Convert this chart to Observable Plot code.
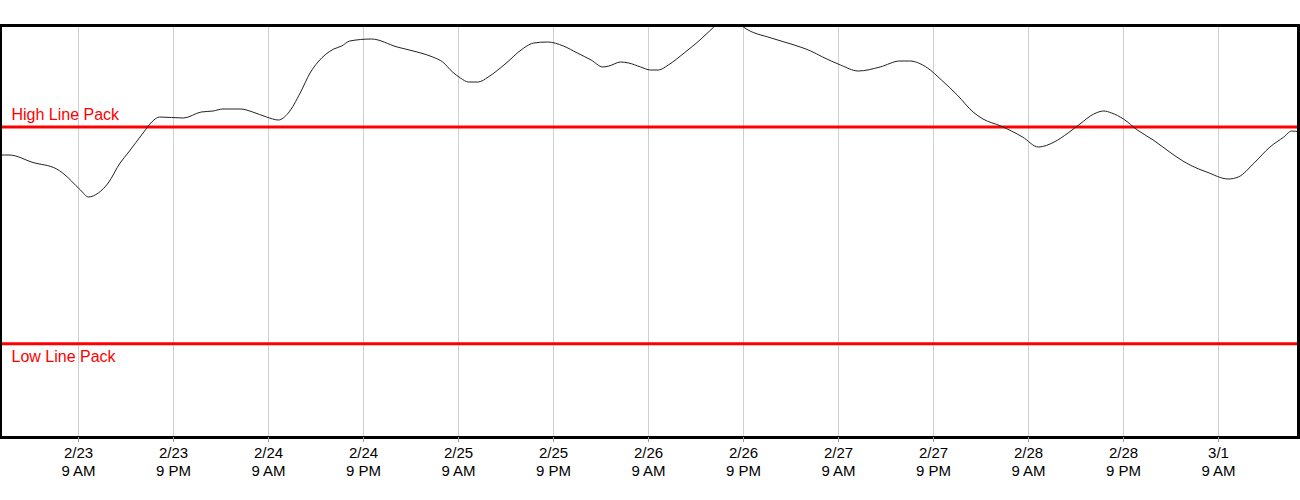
<!DOCTYPE html>
<html>
<head>
<meta charset="utf-8">
<script src="https://cdn.jsdelivr.net/npm/d3@7"></script>
<script src="https://cdn.jsdelivr.net/npm/@observablehq/plot@0.6"></script>
<style>
  body { margin: 0; background: #fff; }
  svg { display: block; }
</style>
</head>
<body>
<div id="chart"></div>
<script>
// Time stamps (UTC) of the line pack readings
const times = [
  "2023-02-22T23:00","2023-02-23T00:15","2023-02-23T03:15","2023-02-23T06:15","2023-02-23T07:00","2023-02-23T09:15",
  "2023-02-23T10:15","2023-02-23T11:30","2023-02-23T12:45","2023-02-23T14:15","2023-02-23T15:15",
  "2023-02-23T17:15","2023-02-23T18:15","2023-02-23T19:15","2023-02-23T22:15","2023-02-24T00:30",
  "2023-02-24T02:00","2023-02-24T03:15","2023-02-24T05:30","2023-02-24T07:00","2023-02-24T08:45",
  "2023-02-24T10:15","2023-02-24T11:30","2023-02-24T13:00","2023-02-24T14:15","2023-02-24T15:15",
  "2023-02-24T17:15","2023-02-24T18:15","2023-02-24T19:15","2023-02-24T22:00","2023-02-25T01:15",
  "2023-02-25T04:15","2023-02-25T05:45","2023-02-25T07:00","2023-02-25T08:15","2023-02-25T09:15",
  "2023-02-25T10:15","2023-02-25T11:30","2023-02-25T12:45","2023-02-25T14:45","2023-02-25T17:15",
  "2023-02-25T18:30","2023-02-25T20:15","2023-02-25T22:15","2023-02-26T00:00","2023-02-26T01:45",
  "2023-02-26T03:15","2023-02-26T04:00","2023-02-26T05:30","2023-02-26T06:30","2023-02-26T08:00",
  "2023-02-26T09:15","2023-02-26T10:15","2023-02-26T11:30","2023-02-26T13:30","2023-02-26T15:30",
  "2023-02-26T17:15","2023-02-26T18:45","2023-02-26T20:15","2023-02-26T21:00","2023-02-27T00:30",
  "2023-02-27T03:00","2023-02-27T05:30","2023-02-27T07:00","2023-02-27T09:15","2023-02-27T11:30",
  "2023-02-27T14:15","2023-02-27T16:45","2023-02-27T18:00","2023-02-27T20:15","2023-02-27T22:00",
  "2023-02-28T00:00","2023-02-28T02:00","2023-02-28T03:15","2023-02-28T05:30","2023-02-28T08:15",
  "2023-02-28T10:15","2023-02-28T12:15","2023-02-28T14:00","2023-02-28T15:30","2023-02-28T17:15",
  "2023-02-28T18:30","2023-02-28T19:30","2023-02-28T21:00","2023-02-28T22:45","2023-03-01T00:45",
  "2023-03-01T03:00","2023-03-01T04:30","2023-03-01T06:30","2023-03-01T07:30","2023-03-01T10:15",
  "2023-03-01T11:30","2023-03-01T13:30","2023-03-01T15:30","2023-03-01T17:15","2023-03-01T18:15",
  "2023-03-01T19:15"
];

// Line pack values (arbitrary units)
const values = [
  282.5, 282.5, 275.0, 268.5, 264.5, 247.5,
  240.5, 244.5, 254.5, 274.5, 284.5,
  305.5, 315.5, 320.5, 319.5, 325.5,
  326.5, 328.5, 328.5, 325.5, 320.5,
  317.5, 324.5, 344.5, 364.5, 375.5,
  388.5, 391.5, 396.5, 398.5, 390.5,
  384.5, 380.5, 375.5, 365.5, 359.5,
  355.5, 355.5, 360.5, 372.5, 389.5,
  394.5, 395.5, 391.5, 384.5, 377.5,
  370.5, 371.5, 375.5, 374.5, 370.5,
  367.5, 367.5, 372.5, 384.5, 397.5,
  410.5, 420.5, 415.5, 410.5, 399.5,
  393.5, 386.5, 380.5, 372.5, 366.5,
  370.5, 376.5, 376.5, 369.5, 357.5,
  342.5, 325.5, 318.5, 311.5, 300.5,
  290.5, 295.5, 304.5, 313.5, 323.5,
  326.5, 324.5, 318.5, 307.5, 297.5,
  284.5, 276.5, 268.5, 265.5, 258.5,
  260.5, 274.5, 290.5, 300.5, 306.5,
  305.5
];

// X tick positions
const tickTimes = [
  "2023-02-23T09:00","2023-02-23T21:00","2023-02-24T09:00","2023-02-24T21:00",
  "2023-02-25T09:00","2023-02-25T21:00","2023-02-26T09:00","2023-02-26T21:00",
  "2023-02-27T09:00","2023-02-27T21:00","2023-02-28T09:00","2023-02-28T21:00",
  "2023-03-01T09:00"
];

// Limit lines
const limitNames = ["High Line Pack", "Low Line Pack"];
const limitValues = [310.5, 93.8];

const parse = d3.utcParse("%Y-%m-%dT%H:%M");
const data = times.map((t, i) => ({date: parse(t), value: values[i]}));
const ticks = tickTimes.map(parse);
const limits = limitNames.map((name, i) => ({name, value: limitValues[i]}));

const fmt = d => {
  const h = d.getUTCHours();
  const h12 = h % 12 === 0 ? 12 : h % 12;
  return `${d.getUTCMonth() + 1}/${d.getUTCDate()}\n${h12} ${h < 12 ? "AM" : "PM"}`;
};

const chart = Plot.plot({
  width: 1300,
  height: 500,
  marginLeft: 0,
  marginRight: 2,
  marginTop: 25,
  marginBottom: 63,
  style: {fontFamily: "Arial, 'Liberation Sans', sans-serif", background: "#fff"},
  x: {type: "utc", domain: [ticks[0], ticks[ticks.length - 1]], range: [78, 1218]},
  y: {domain: [0, 412], axis: null},
  marks: [
    Plot.gridX(ticks, {stroke: "#cfcfcf", strokeOpacity: 1}),
    Plot.ruleY(limits, {y: "value", stroke: "red", strokeWidth: 3}),
    Plot.line(data, {x: "date", y: "value", stroke: "#222", strokeWidth: 1, curve: "monotone-x", clip: true}),
    Plot.text(limits.slice(0, 1), {y: "value", text: "name", frameAnchor: "left", textAnchor: "start",
      lineAnchor: "bottom", dx: 11, dy: -7, fill: "red", fontSize: 16}),
    Plot.text(limits.slice(1), {y: "value", text: "name", frameAnchor: "left", textAnchor: "start",
      lineAnchor: "top", dx: 11, dy: 7, fill: "red", fontSize: 16}),
    Plot.frame({stroke: "black", strokeWidth: 3}),
    Plot.axisX(ticks, {tickFormat: fmt, tickSize: 5, tickPadding: 3, fontSize: 15, lineHeight: 1.2,
      stroke: "#999", fill: "black", label: null})
  ]
});
document.getElementById("chart").appendChild(chart);
</script>
</body>
</html>
